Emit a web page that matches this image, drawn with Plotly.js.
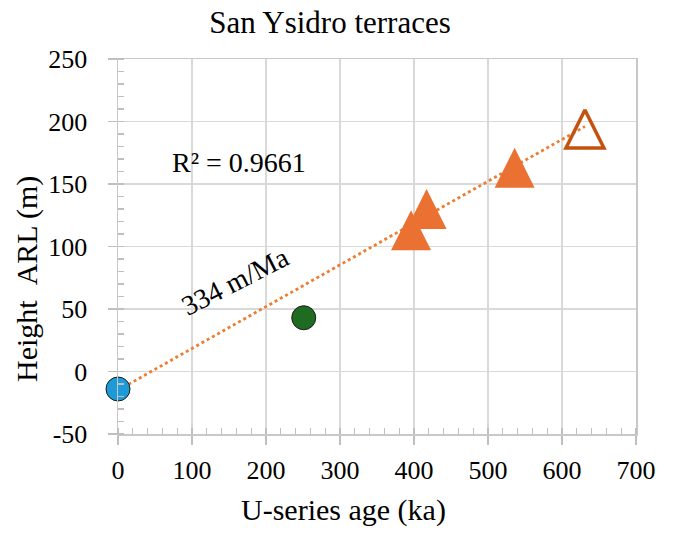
<!DOCTYPE html>
<html>
<head>
<meta charset="utf-8">
<script src="https://cdn.plot.ly/plotly-3.0.1.min.js"></script>
<style>html,body{margin:0;padding:0;background:#fff;}#chart{width:675px;height:535px;}</style>
</head>
<body>
<div id="chart"></div>
<script>
// ---- data ----
const blueX = [0];
const blueY = [-14];
const greenX = [251];
const greenY = [43];
const triX = [396, 417, 536];
const triY = [113, 130, 163];
const openTriX = [631];
const openTriY = [194];
const trendX = [0, 631];
const trendY = [-15, 196];
const xTicks = [0, 100, 200, 300, 400, 500, 600, 700];
const yTicks = [-50, 0, 50, 100, 150, 200, 250];
const r2Label = 'R² = 0.9661';
const rateLabel = '334 m/Ma';

const FONT = 'Liberation Serif, Times New Roman, serif';
const GRID = '#D9D9D9';

const traces = [
  {x: trendX, y: trendY, mode: 'lines', type: 'scatter', cliponaxis: false,
   line: {color: '#ED7D31', width: 2.8, dash: 'dot'}, hoverinfo: 'skip'},
  {x: blueX, y: blueY, mode: 'markers', type: 'scatter', cliponaxis: false,
   marker: {symbol: 'circle', size: 24, color: '#1E9AD6', line: {color: '#1a1a1a', width: 1}}},
  {x: greenX, y: greenY, mode: 'markers', type: 'scatter', cliponaxis: false,
   marker: {symbol: 'circle', size: 24, color: '#1F6B21', line: {color: '#1a1a1a', width: 1}}},
  {x: triX, y: triY, mode: 'markers', type: 'scatter', cliponaxis: false,
   marker: {symbol: 'arrow-down', angle: 180, standoff: 20, size: 40, color: '#EA7131', line: {width: 0}}},
  {x: openTriX, y: openTriY, mode: 'markers', type: 'scatter', cliponaxis: false,
   marker: {symbol: 'arrow-down', angle: 180, standoff: 19, size: 38, color: 'rgba(0,0,0,0)', line: {color: '#C4520F', width: 3.5}}}
];

const layout = {
  width: 675, height: 535,
  margin: {l: 118, r: 39, t: 59, b: 101, pad: 0},
  paper_bgcolor: '#ffffff', plot_bgcolor: '#ffffff',
  showlegend: false,
  font: {family: FONT, color: '#000000', size: 26},
  title: {text: 'San Ysidro terraces', font: {family: FONT, size: 31, color: '#000'},
          x: 330 / 675, xref: 'container', xanchor: 'center',
          y: 1 - 22 / 535, yref: 'container', yanchor: 'middle'},
  xaxis: {
    range: [0, 700], tickvals: xTicks, ticktext: xTicks.map(String),
    showgrid: true, gridcolor: GRID, gridwidth: 1.5,
    showline: true, linecolor: '#C8C8C8', linewidth: 1.5, mirror: true,
    zeroline: false,
    ticks: 'outside', ticklen: 9, tickcolor: '#BFBFBF', tickwidth: 1.5,
    ticklabelstandoff: 3,
    minor: {dtick: 20, ticks: 'inside', ticklen: 6, tickcolor: '#BFBFBF', tickwidth: 1.2, showgrid: false},
    tickfont: {family: FONT, size: 26, color: '#000'}
  },
  yaxis: {
    range: [-50, 250], tickvals: yTicks, ticktext: yTicks.map(String),
    showgrid: true, gridcolor: GRID, gridwidth: 1.5,
    showline: true, linecolor: '#C8C8C8', linewidth: 1.5, mirror: true,
    zeroline: false,
    ticks: 'outside', ticklen: 9, tickcolor: '#BFBFBF', tickwidth: 1.5,
    ticklabelstandoff: 15,
    minor: {dtick: 10, ticks: 'inside', ticklen: 6, tickcolor: '#BFBFBF', tickwidth: 1.2, showgrid: false},
    tickfont: {family: FONT, size: 26, color: '#000'}
  },
  annotations: [
    {text: 'U-series age (ka)', xref: 'paper', yref: 'paper',
     x: (343 - 118) / 518, y: (434 - 510) / 375, xanchor: 'center', yanchor: 'middle',
     showarrow: false, font: {family: FONT, size: 30, color: '#000'}},
    {text: 'Height\u00a0\u00a0ARL (m)', xref: 'paper', yref: 'paper', textangle: -90,
     x: (27 - 118) / 518, y: (434 - 279) / 375, xanchor: 'center', yanchor: 'middle',
     showarrow: false, font: {family: FONT, size: 30, color: '#000'}},
    {text: r2Label, xref: 'x', yref: 'y', x: 163, y: 167, xanchor: 'center', yanchor: 'middle',
     showarrow: false, font: {family: FONT, size: 28, color: '#000'}},
    {text: rateLabel, xref: 'x', yref: 'y', x: 158, y: 72, xanchor: 'center', yanchor: 'middle',
     textangle: -27, showarrow: false, font: {family: FONT, size: 28, color: '#000'}}
  ]
};

Plotly.newPlot('chart', traces, layout, {staticPlot: true, displayModeBar: false});
</script>
</body>
</html>
